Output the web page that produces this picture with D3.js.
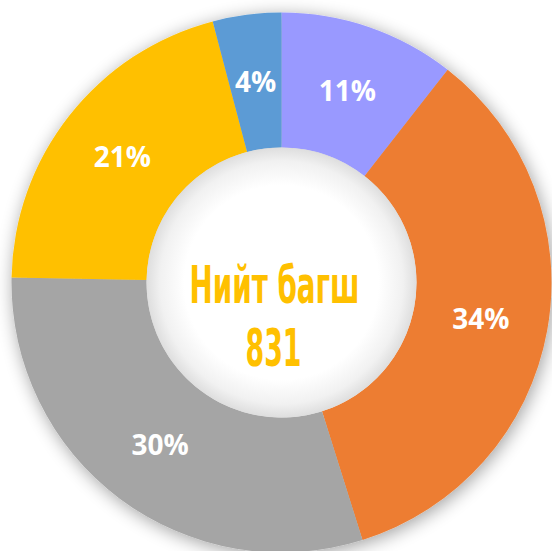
<!DOCTYPE html>
<html>
<head>
<meta charset="utf-8">
<script src="https://cdn.jsdelivr.net/npm/d3@7"></script>
<style>
  html, body { margin: 0; padding: 0; background: #fff; }
  svg { display: block; }
</style>
</head>
<body>
<script>
// Data (shares in percent; total teachers 831)
const categories = ["A", "B", "C", "D", "E"];
const values = [10.55, 34.6, 30.15, 20.6, 4.1];
const labels = ["11%", "34%", "30%", "21%", "4%"];
const colors = ["#9999FF", "#ED7D31", "#A5A5A5", "#FFC000", "#5B9BD5"];
const centerTitle = "Нийт багш";
const centerTotal = "831";

const W = 552, H = 551;
const cx = 281.5, cy = 282.5;
const outerR = 270, innerR = 135;

const svg = d3.select("body").append("svg").attr("width", W).attr("height", H);
const defs = svg.append("defs");

const shadow = defs.append("filter").attr("id", "shadow")
  .attr("x", "-20%").attr("y", "-20%").attr("width", "140%").attr("height", "140%");
shadow.append("feGaussianBlur").attr("in", "SourceAlpha").attr("stdDeviation", 9).attr("result", "b");
shadow.append("feOffset").attr("in", "b").attr("dx", 2).attr("dy", 3).attr("result", "o");
shadow.append("feComponentTransfer").attr("in", "o").attr("result", "s")
  .append("feFuncA").attr("type", "linear").attr("slope", 0.38);
const m = shadow.append("feMerge");
m.append("feMergeNode").attr("in", "s");
m.append("feMergeNode").attr("in", "SourceGraphic");

const hole = defs.append("radialGradient").attr("id", "hole")
  .attr("cx", "50%").attr("cy", "50%").attr("r", "50%");
hole.append("stop").attr("offset", "0%").attr("stop-color", "#ffffff");
hole.append("stop").attr("offset", "72%").attr("stop-color", "#ffffff");
hole.append("stop").attr("offset", "90%").attr("stop-color", "#f1f1f1");
hole.append("stop").attr("offset", "100%").attr("stop-color", "#dedede");

const g = svg.append("g").attr("transform", `translate(${cx},${cy})`);

const pie = d3.pie().value(d => d).sort(null);
const arcs = pie(values);
const arc = d3.arc().innerRadius(innerR).outerRadius(outerR);
const labelArc = d3.arc().innerRadius((innerR + outerR) / 2).outerRadius((innerR + outerR) / 2);

g.append("g").attr("filter", "url(#shadow)")
  .selectAll("path").data(arcs).join("path")
  .attr("d", arc)
  .attr("fill", (d, i) => colors[i]);

g.append("circle").attr("r", innerR).attr("fill", "url(#hole)");

g.selectAll("text.lbl").data(arcs).join("text")
  .attr("class", "lbl")
  .attr("transform", d => `translate(${labelArc.centroid(d)})`)
  .attr("text-anchor", "middle")
  .attr("dy", "0.36em")
  .attr("fill", "#ffffff")
  .style("font-family", "'Open Sans', sans-serif")
  .style("font-weight", "bold")
  .style("font-size", "28px")
  .text((d, i) => labels[i]);

// Center text: condensed look via horizontal scaling to the reference widths
function centerText(str, x, y, targetW) {
  const gg = g.append("g");
  const t = gg.append("text")
    .attr("text-anchor", "middle")
    .attr("fill", "#FFC000")
    .style("font-family", "'DejaVu Sans Condensed', 'Liberation Sans Narrow', sans-serif")
    .style("font-weight", "bold")
    .style("font-size", "51px")
    .text(str);
  const w = t.node().getComputedTextLength();
  const s = w > 0 ? targetW / w : 1;
  gg.attr("transform", `translate(${x},${y}) scale(${s},1)`);
}
centerText(centerTitle, -7, 20, 170);
centerText(centerTotal, -8, 83, 56);
</script>
</body>
</html>
